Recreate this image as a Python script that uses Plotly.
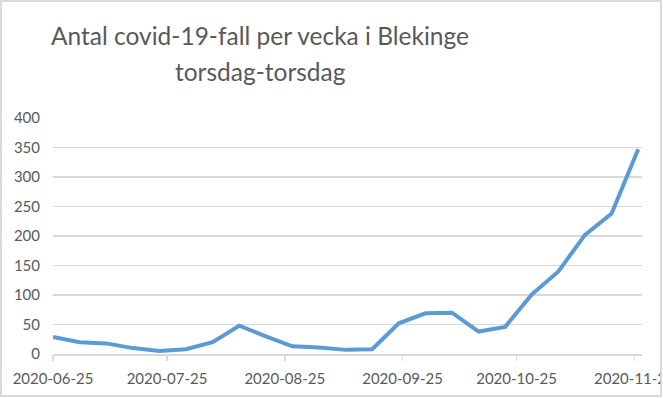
import plotly.graph_objects as go

# ---- data ----
dates = ["2020-06-25", "2020-07-02", "2020-07-09", "2020-07-16", "2020-07-23",
         "2020-07-30", "2020-08-06", "2020-08-13", "2020-08-20", "2020-08-27",
         "2020-09-03", "2020-09-10", "2020-09-17", "2020-09-24", "2020-10-01",
         "2020-10-08", "2020-10-15", "2020-10-22", "2020-10-29", "2020-11-05",
         "2020-11-12", "2020-11-19", "2020-11-26"]
cases = [29, 20, 18, 10, 5, 8, 20, 48, 30, 13, 11, 7, 8, 52, 69, 70, 38, 46,
         101, 140, 202, 238, 347]
x_tickvals = ["2020-06-25", "2020-07-25", "2020-08-25", "2020-09-25",
              "2020-10-25", "2020-11-25"]
x_ticktext = ["2020-06-25", "2020-07-25", "2020-08-25", "2020-09-25",
              "2020-10-25", "2020-11-25"]
y_tickvals = [0, 50, 100, 150, 200, 250, 300, 350, 400]
title_lines = ["Antal covid-19-fall per vecka i Blekinge", "torsdag-torsdag"]

W, H = 663, 398
L, R, T, B = 53, 21, 118, 44
PW, PH = W - L - R, H - T - B

def px(xp):
    return (xp - L) / PW

def py(yp):
    return (H - B - yp) / PH

FONT = "Lato, Carlito, Calibri, sans-serif"
GRAY_TXT = "#595959"
GRID = "#d9d9d9"

fig = go.Figure()
fig.add_trace(go.Scatter(
    x=dates, y=cases, mode="lines",
    line=dict(color="#5b9bd5", width=4),
    hoverinfo="skip", showlegend=False,
))

# title as two centred lines (Excel-like spacing)
title_centres_px = [35, 71]
annotations = [
    dict(text=t, xref="paper", yref="paper", x=px(260), y=py(yc),
         xanchor="center", yanchor="middle", showarrow=False,
         font=dict(family=FONT, size=24.5, color=GRAY_TXT))
    for t, yc in zip(title_lines, title_centres_px)
]

fig.update_layout(
    width=W, height=H,
    margin=dict(l=L, r=R, t=T, b=B, autoexpand=False),
    paper_bgcolor="white", plot_bgcolor="white",
    font=dict(family=FONT, color=GRAY_TXT, size=15),
    annotations=annotations,
    xaxis=dict(
        type="date",
        range=["2020-06-25", "2020-11-27"],
        tickmode="array", tickvals=x_tickvals, ticktext=x_ticktext,
        showgrid=False, zeroline=False,
        showline=True, linecolor=GRID, linewidth=1.5,
        ticks="outside", ticklen=5, tickcolor=GRID, tickwidth=1.5,
        ticklabeloverflow="allow", ticklabelstandoff=5,
        tickfont=dict(family=FONT, size=15, color=GRAY_TXT),
        fixedrange=True,
    ),
    yaxis=dict(
        range=[0, 400],
        tickmode="array", tickvals=y_tickvals,
        showgrid=True, gridcolor=GRID, gridwidth=1.5,
        zeroline=False, showline=False,
        ticks="", ticklabelstandoff=12,
        tickfont=dict(family=FONT, size=15, color=GRAY_TXT),
        fixedrange=True,
    ),
    shapes=[
        # white strip clipping the right edge (image crop)
        dict(type="rect", xref="paper", yref="paper",
             x0=px(661), x1=px(W + 20), y0=py(H + 20), y1=py(-20),
             fillcolor="white", line=dict(width=0), layer="above"),
        # chart-area border
        dict(type="rect", xref="paper", yref="paper",
             x0=px(1), x1=px(661), y0=py(396), y1=py(1),
             fillcolor="rgba(0,0,0,0)", line=dict(color="#d0d0d0", width=1.5),
             layer="above"),
    ],
)

fig.write_html(
    "out.html",
    config={"displayModeBar": False, "staticPlot": True},
    post_script="document.body.style.margin='0';document.body.style.padding='0';",
)
